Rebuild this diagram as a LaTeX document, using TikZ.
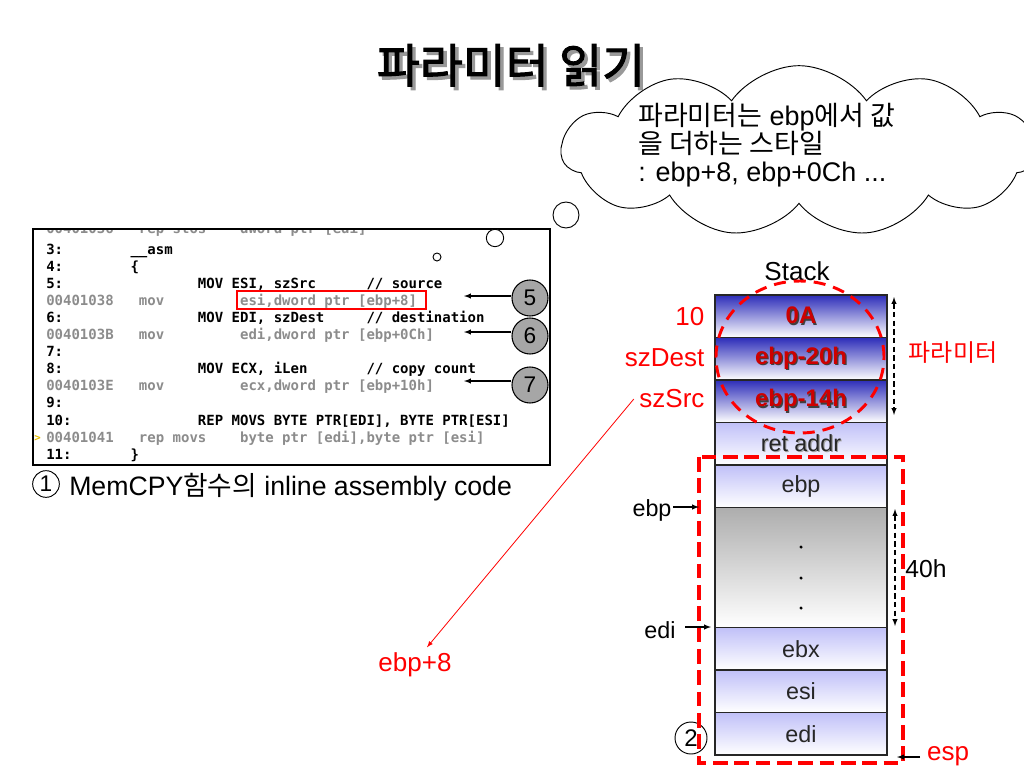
\documentclass[tikz,border=0pt]{standalone}
\usepackage{fontspec}
\setmainfont{Liberation Sans}
\newfontfamily\kr{Noto Sans CJK KR}
\newfontfamily\krhead[FakeBold=2.2]{Noto Sans CJK KR}
\newfontfamily\codefont[WordSpace={1,0,0}]{DejaVu Sans Mono}
\usetikzlibrary{positioning}
\usetikzlibrary{shapes.symbols}
\definecolor{pardark}{RGB}{45,45,185}
\definecolor{reglight}{RGB}{192,192,248}
\definecolor{parred}{RGB}{205,0,0}
\definecolor{markyel}{RGB}{230,190,0}
\newlength\chw
\setlength\chw{6.32pt}
\newcommand\sk[1]{\hspace*{#1\chw}}
\newcommand\dropsh[3]{\makebox[0pt][l]{\hspace{#2}\raisebox{-#2}{\color{#3}#1}}#1}

\begin{document}
\begin{tikzpicture}[x=0.75pt,y=-0.75pt,
  codeln/.style={anchor=base west,inner sep=0pt,font=\codefont\bfseries\fontsize{10.5}{12}\selectfont},
  asmln/.style={codeln,text=black!45},
  numdisk/.style={circle,draw,fill=black!35,line width=0.8pt,minimum size=27pt,inner sep=0pt,font=\fontsize{17}{18}\selectfont},
  ringnum/.style={circle,draw,line width=0.7pt,minimum size=20pt,inner sep=0pt,font=\fontsize{17}{18}\selectfont},
  stackcell/.style={draw=black!85,line width=1.1pt,minimum width=129pt,minimum height=31.875pt,inner sep=0pt,outer sep=0pt},
  parcell/.style={stackcell,top color=pardark,bottom color=white,text=parred,font=\bfseries\fontsize{18}{20}\selectfont},
  regcell/.style={stackcell,top color=reglight,bottom color=white,text=black!85,font=\fontsize{17.5}{20}\selectfont},
  redlbl/.style={text=red,inner sep=1pt,font=\fontsize{19.5}{22}\selectfont},
  blklbl/.style={inner sep=1pt,font=\fontsize{17.5}{20}\selectfont},
  bub/.style={circle,draw,fill=white,line width=0.7pt,inner sep=0pt},
  ptr/.style={-latex,line width=0.8pt},
  redbox/.style={draw=red,line width=2.5pt,dash pattern=on 11pt off 5pt}]
  \useasboundingbox (0,0) rectangle (1024,768);
  \fill[white] (0,0) rectangle (1024,768);

  \node[font=\krhead\fontsize{35}{38}\selectfont] (title) at (511,67) {\dropsh{파라미터 읽기}{2.5pt}{black!40}};

  \node[cloud,draw,fill=white,line width=0.7pt,cloud puffs=11,cloud puff arc=110,cloud ignores aspect,minimum width=356pt,minimum height=128pt] (bubble) at (799,151) {};
  \node[anchor=west,align=left,inner sep=0pt,font=\fontsize{20.2}{21}\selectfont] (bubtext) at (638,145) {{\kr 파라미터는} ebp{\kr 에서 값}\\{\kr 을 더하는 스타일}\\: ebp+8, ebp+0Ch ...};

  \begin{scope}
    \clip (33,229) rectangle (550,465);
    \node[asmln] (r0) at (46,233) {00401036\sk{3}rep stos\sk{4}dword ptr [edi]};
    \node[codeln] (r1) at (46,254) {3:\sk{8}\_\_asm};
    \node[codeln] (r2) at (46,271.1) {4:\sk{8}\{};
    \node[codeln] (r3) at (46,288.2) {5:\sk{16}MOV ESI, szSrc\sk{6}// source};
    \node[asmln] (r4) at (46,305.3) {00401038\sk{3}mov\sk{9}esi,dword ptr [ebp+8]};
    \node[codeln] (r5) at (46,322.4) {6:\sk{16}MOV EDI, szDest\sk{5}// destination};
    \node[asmln] (r6) at (46,339.5) {0040103B\sk{3}mov\sk{9}edi,dword ptr [ebp+0Ch]};
    \node[codeln] (r7) at (46,356.6) {7:};
    \node[codeln] (r8) at (46,373.7) {8:\sk{16}MOV ECX, iLen\sk{7}// copy count};
    \node[asmln] (r9) at (46,390.8) {0040103E\sk{3}mov\sk{9}ecx,dword ptr [ebp+10h]};
    \node[codeln] (r10) at (46,407.9) {9:};
    \node[codeln] (r11) at (46,425) {10:\sk{15}REP MOVS BYTE PTR[EDI], BYTE PTR[ESI]};
    \node[asmln] (r12) at (46,442.1) {00401041\sk{3}rep movs\sk{4}byte ptr [edi],byte ptr [esi]};
    \node[codeln] (r13) at (46,459.2) {11:\sk{7}\}};
  \end{scope}
  \draw[line width=2pt]
    (33,229)
    rectangle
    (550,465);
  \node[codeln,text=markyel,font=\codefont\bfseries\fontsize{8}{9}\selectfont] (mark) at (34,441) {>};
  \draw[red,line width=1.2pt]
    (237,291)
    rectangle
    (426,309);

  \node[bub,minimum size=19.5pt] (bub1) at (566,215) {};
  \node[bub,minimum size=13pt] (bub2) at (495,238) {};
  \node[bub,minimum size=6pt] (bub3) at (437,257) {};

  \node[numdisk] (n5) at (530,298) {5};
  \node[numdisk] (n6) at (530,336) {6};
  \node[numdisk] (n7) at (530,385) {7};
  \coordinate (t5) at (464,296);
  \coordinate (t6) at (464,332);
  \coordinate (t7) at (464,381);
  \draw[ptr]
    (n5.west |- t5)
    --
    (t5);
  \draw[ptr]
    (n6.west |- t6)
    --
    (t6);
  \draw[ptr]
    (n7.west |- t7)
    --
    (t7);

  \node[ringnum] (c1) at (46,484) {1};
  \node[anchor=west,inner sep=0pt,font=\fontsize{20}{22}\selectfont] (capt) at (69,487) {MemCPY{\kr 함수의} inline assembly code};

  \node[font=\fontsize{19.5}{22}\selectfont] (stk) at (797,271) {Stack};
  \node[parcell,anchor=north] (c0A) at (801,295) {\dropsh{0A}{1pt}{black!75}};
  \node[parcell,below=0pt of c0A] (c20h) {\dropsh{ebp-20h}{1pt}{black!75}};
  \node[parcell,below=0pt of c20h] (c14h) {\dropsh{ebp-14h}{1pt}{black!75}};
  \node[regcell,below=0pt of c14h] (cret) {\dropsh{ret addr}{0.8pt}{black!35}};
  \node[regcell,below=0pt of cret] (cebp) {ebp};
  \node[stackcell,top color=black!32,bottom color=white,minimum height=90pt,below=0pt of cebp] (clocal) {};
  \node[regcell,below=0pt of clocal] (cebx) {ebx};
  \node[regcell,below=0pt of cebx] (cesi) {esi};
  \node[regcell,below=0pt of cesi] (cedi) {edi};
  \fill (801,547) circle [radius=1.3pt];
  \fill (801,578) circle [radius=1.3pt];
  \fill (801,608) circle [radius=1.3pt];

  \node[redlbl,anchor=east] (l10) at (706,317) {10};
  \node[redlbl,anchor=east] (ldest) at (706,358) {szDest};
  \node[redlbl,anchor=east] (lsrc) at (706,399) {szSrc};
  \node[text=red,font=\kr\fontsize{18}{20}\selectfont] (lpar) at (953,353) {파라미터};
  \node[redlbl] (l8) at (415,665) {ebp+8};
  \draw[red,-latex,line width=0.6pt]
    ([xshift=-3pt]lsrc.west)
    --
    ([xshift=9pt,yshift=3pt]l8.north);

  \coordinate (pa) at (894,297);
  \coordinate (pb) at (894,415);
  \draw[latex-latex,line width=0.8pt,dash pattern=on 4pt off 2.5pt]
    (pa)
    --
    (pb);
  \coordinate (qa) at (895,509);
  \coordinate (qb) at (895,626);
  \draw[latex-latex,line width=0.8pt,dash pattern=on 4pt off 2.5pt]
    (qa)
    --
    (qb);
  \node[blklbl,font=\fontsize{18.5}{20}\selectfont] (l40) at (926,569) {40h};

  \node[ringnum,minimum size=24pt,font=\fontsize{18}{20}\selectfont] (c2) at (691,738) {2};

  \draw[red,line width=2.2pt,dash pattern=on 9pt off 6pt]
    (800,357) ellipse [x radius=63pt,y radius=57pt];
  \draw[redbox]
    (699,457)
    rectangle
    (903,763);

  \node[blklbl] (lebp) at (652,510) {ebp};
  \coordinate (aebp) at (699,507);
  \draw[ptr]
    (lebp.east |- aebp)
    --
    (aebp);
  \node[blklbl] (ledi) at (660,630) {edi};
  \coordinate (aedi) at (711,627);
  \draw[ptr,shorten <=6pt]
    (ledi.east |- aedi)
    --
    (aedi);
  \node[redlbl] (lesp) at (948,756) {esp};
  \coordinate (aesp) at (897,757);
  \draw[ptr,shorten <=4pt]
    (lesp.west |- aesp)
    --
    (aesp);
\end{tikzpicture}
\end{document}
